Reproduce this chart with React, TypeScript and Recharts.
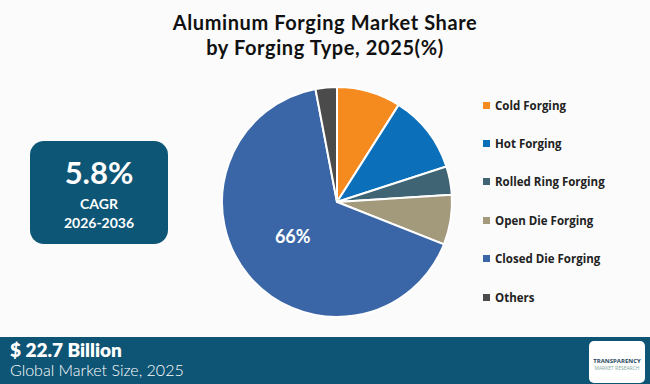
import React from 'react';
import { PieChart, Pie, Cell, Legend } from 'recharts';

const segments = ['Cold Forging', 'Hot Forging', 'Rolled Ring Forging', 'Open Die Forging', 'Closed Die Forging', 'Others'];
const shares = [9, 11, 4, 7, 66, 3];
const COLORS = ['#F58A1F', '#0B6FBA', '#3F6574', '#A39A7B', '#3A66A7', '#4B4B4B'];

const titleLines = ['Aluminum Forging Market Share', 'by Forging Type, 2025(%)'];

const data = segments.map((name, i) => ({ name, value: shares[i] }));

const RAD = Math.PI / 180;

const renderLabel = (props: any) => {
  const { cx, cy, midAngle, outerRadius, value, name } = props;
  if (name !== 'Closed Die Forging') return null;
  const r = outerRadius * 0.5;
  const x = cx + r * Math.cos(-midAngle * RAD);
  const y = cy + r * Math.sin(-midAngle * RAD);
  return (
    <text x={x} y={y - 3} fill="#fff" fontSize={18} fontWeight={700} textAnchor="middle" dominantBaseline="central" fontFamily="Lato, sans-serif">
      {`${value}%`}
    </text>
  );
};

const renderLegend = () => (
  <div>
    {segments.map((s, i) => (
      <div key={s} style={{ display: 'flex', alignItems: 'center', height: 38.4 }}>
        <span style={{ width: 7, height: 7, background: COLORS[i], marginRight: 5 }} />
        <span style={{ fontSize: 11.5, fontWeight: 700, color: '#222', fontFamily: '"Open Sans", sans-serif' }}>{s}</span>
      </div>
    ))}
  </div>
);

const App: React.FC = () => {
  return (
    <div style={{ position: 'absolute', left: 0, top: 0, width: 650, height: 384, background: '#FBFBFB', overflow: 'hidden', fontFamily: '"Open Sans", sans-serif' }}>
      {titleLines.map((t, i) => (
        <div key={t} style={{ position: 'absolute', top: 10 + i * 24.5, left: 0, width: 650, textAlign: 'center', fontSize: 20, fontWeight: 700, lineHeight: '24px', height: 24, color: '#111', fontFamily: 'Lato, sans-serif', letterSpacing: 0.6 }}>
          {t}
        </div>
      ))}

      <div style={{ position: 'absolute', left: 30, top: 141, width: 138, height: 103, background: '#0E5676', borderRadius: 14, color: '#fff', textAlign: 'center', fontFamily: 'Lato, sans-serif' }}>
        <div style={{ fontSize: 31, fontWeight: 700, marginTop: 13, lineHeight: '36px' }}>5.8%</div>
        <div style={{ fontSize: 14, fontWeight: 700, marginTop: 5, lineHeight: '18px' }}>CAGR</div>
        <div style={{ fontSize: 14, fontWeight: 700, lineHeight: '20px' }}>2026-2036</div>
      </div>

      <div style={{ position: 'absolute', left: 0, top: 0 }}>
        <PieChart width={650} height={384}>
          <Pie
            data={data}
            dataKey="value"
            nameKey="name"
            cx={332}
            cy={197}
            outerRadius={115}
            startAngle={90}
            endAngle={-270}
            stroke="#fff"
            strokeWidth={2}
            label={renderLabel}
            labelLine={false}
            isAnimationActive={false}
          >
            {data.map((d, i) => (
              <Cell key={`cell-${i}`} fill={COLORS[i]} />
            ))}
          </Pie>
          <Legend
            layout="vertical"
            content={renderLegend}
            wrapperStyle={{ left: 483, top: 86, width: 170 }}
          />
        </PieChart>
      </div>

      <div style={{ position: 'absolute', left: 0, top: 337, width: 650, height: 47, background: '#0E5474', color: '#fff' }}>
        <div style={{ position: 'absolute', left: 10, top: 3, fontSize: 19, fontWeight: 800, lineHeight: '20px', fontFamily: 'Lato, sans-serif' }}>$ 22.7 Billion</div>
        <div style={{ position: 'absolute', left: 10, top: 24, fontSize: 16, fontWeight: 300, lineHeight: '18px', fontFamily: 'Lato, sans-serif' }}>Global Market Size, 2025</div>
        <div style={{ position: 'absolute', left: 589, top: 4, width: 56, height: 42, background: '#fff', borderRadius: 5, textAlign: 'center' }}>
          <div style={{ fontSize: 6, fontWeight: 700, color: '#1E4660', marginTop: 17, lineHeight: '7px' }}>TRANSPARENCY</div>
          <div style={{ fontSize: 5, color: '#7FA7A0', lineHeight: '6px' }}>MARKET RESEARCH</div>
        </div>
      </div>
    </div>
  );
};

export default App;
